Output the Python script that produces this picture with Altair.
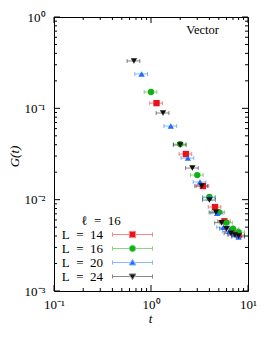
import altair as alt
import pandas as pd

# ---------------- data ----------------
series = ["L\u2002=\u200214", "L\u2002=\u200216", "L\u2002=\u200220", "L\u2002=\u200224"]

t14 = [1.14, 2.29, 3.43, 4.57, 5.71, 6.86, 8.0]
G14 = [0.114, 0.0316, 0.0141, 0.0083, 0.0058, 0.0045, 0.0041]
e14 = [0.17, 0.34, 0.51, 0.68, 0.85, 1.02, 1.2]

t16 = [1.0, 2.0, 3.0, 4.0, 5.0, 6.0, 7.0, 8.0]
G16 = [0.151, 0.0406, 0.0186, 0.0107, 0.0073, 0.0056, 0.0048, 0.0044]
e16 = [0.15, 0.3, 0.45, 0.6, 0.75, 0.9, 1.05, 1.2]

t20 = [0.8, 1.6, 2.4, 3.2, 4.0, 4.8, 5.6, 6.4, 7.2, 8.0]
G20 = [0.238, 0.064, 0.0285, 0.0156, 0.0105, 0.0071, 0.0050, 0.0045, 0.0042, 0.0039]
e20 = [0.12, 0.24, 0.36, 0.48, 0.6, 0.72, 0.84, 0.96, 1.08, 1.2]

t24 = [0.667, 1.33, 2.0, 2.67, 3.33, 4.0, 4.67, 5.33, 6.0, 6.67, 7.33, 8.0]
G24 = [0.330, 0.0889, 0.0396, 0.0222, 0.0141, 0.0099, 0.0073, 0.0056, 0.0048, 0.0043, 0.0041, 0.0040]
e24 = [0.1, 0.2, 0.3, 0.4, 0.5, 0.6, 0.7, 0.8, 0.9, 1.0, 1.1, 1.2]

x_labels_at = [0.1, 1, 10]
y_labels_at = [0.001, 0.01, 0.1, 1]
x_major = [0.1, 1, 10]
x_minor = [k * 0.1 for k in range(2, 10)] + [k * 1.0 for k in range(2, 10)]
y_major = [0.001, 0.01, 0.1, 1]
y_minor = [k * 10.0 ** e for e in (-3, -2, -1) for k in range(2, 10)]

annot_txt = ["Vector"]
annot_t = [5.02]
annot_G = [0.72]
key_title = ["\u2113\u2002=\u200216"]
key_t = [0.305]
key_G = [0.0059]

# ---------------- styling ----------------
colors = ["#e8141c", "#12b012", "#1f6fff", "#111111"]
light = ["#f28a8e", "#86d486", "#8fb5ff", "#8a8a8a"]
shapes = ["square", "circle", "triangle-up", "triangle-down"]
key_paths = [
    "M-6.67,0H-1.1M1.1,0H6.67M-6.67,-0.7V0.7M6.67,-0.7V0.7M-1.05,-1.05H1.05V1.05H-1.05Z",
    "M-6.67,0H-1.1M1.1,0H6.67M-6.67,-0.7V0.7M6.67,-0.7V0.7M-1.1,0A1.1,1.1,0,1,0,1.1,0A1.1,1.1,0,1,0,-1.1,0Z",
    "M-6.67,0H-0.9M0.9,0H6.67M-6.67,-0.7V0.7M6.67,-0.7V0.7M0,-1.05L1.15,0.85L-1.15,0.85Z",
    "M-6.67,0H-0.9M0.9,0H6.67M-6.67,-0.7V0.7M6.67,-0.7V0.7M0,1.05L1.15,-0.85L-1.15,-0.85Z",
]
FONT = "Liberation Serif"
W, H = 194, 274

rows = []
for name, ts, Gs, es in zip(series, [t14, t16, t20, t24], [G14, G16, G20, G24], [e14, e16, e20, e24]):
    for t, G, e in zip(ts, Gs, es):
        rows.append({"L": name, "t": t, "G": G, "lo": t - e, "hi": t + e})
df = pd.DataFrame(rows)

xscale = alt.Scale(type="log", domain=[0.1, 10])
yscale = alt.Scale(type="log", domain=[0.001, 1])

lab_expr = ("datum.value > 5 ? '10¹' : datum.value > 0.5 ? '10⁰' : "
            "datum.value > 0.05 ? '10⁻¹' : datum.value > 0.005 ? '10⁻²' : '10⁻³'")

x_axis = alt.Axis(values=x_labels_at, labelExpr=lab_expr, ticks=False, domain=False,
                  grid=False, labelFont=FONT, labelFontSize=13, labelColor="black",
                  labelPadding=7, labelFlush=False, title="t", titleFont=FONT, titleFontSize=13,
                  titleFontStyle="italic", titleFontWeight="normal", titleColor="black",
                  titleX=96, titleY=27, titleBaseline="middle", titleAlign="center")
y_axis = alt.Axis(values=y_labels_at, labelExpr=lab_expr, ticks=False, domain=False,
                  grid=False, labelFont=FONT, labelFontSize=13, labelColor="black",
                  labelPadding=9, labelFlush=False, title="G(t)", titleFont=FONT, titleFontSize=13,
                  titleFontStyle="italic", titleFontWeight="normal", titleColor="black",
                  titleX=-40, titleY=139, titleAngle=270, titleBaseline="middle",
                  titleAlign="center")


def X(field):
    return alt.X(field, scale=xscale, axis=x_axis)


def Y(field):
    return alt.Y(field, scale=yscale, axis=y_axis)


base = alt.Chart(df)

data_layers = []
for name, shp, c in zip(series, shapes, colors):
    sub = base.transform_filter(alt.datum.L == name)
    data_layers.append(sub.mark_rule(strokeWidth=1, opacity=0.5, color=c).encode(
        x=X("lo:Q"), x2="hi:Q", y=Y("G:Q")))
    data_layers.append(sub.mark_tick(orient="vertical", size=4, thickness=1, opacity=0.5, color=c).encode(
        x=X("lo:Q"), y=Y("G:Q")))
    data_layers.append(sub.mark_tick(orient="vertical", size=4, thickness=1, opacity=0.5, color=c).encode(
        x=X("hi:Q"), y=Y("G:Q")))
for name, shp, c in zip(series, shapes, colors):
    sub = base.transform_filter(alt.datum.L == name)
    data_layers.append(sub.mark_point(filled=True, opacity=1, size=40, shape=shp, color=c).encode(
        x=X("t:Q"), y=Y("G:Q")))

leg = alt.Legend(title=None, orient="none", legendX=72, legendY=211, labelAlign="right",
                 labelOffset={"expr": "-36"}, labelFont=FONT, labelFontSize=13, labelColor="black",
                 symbolSize=36, symbolStrokeWidth=1, symbolOpacity=1, rowPadding=0, padding=0)
keylayer = base.mark_point(filled=True, opacity=0, size=36).encode(
    x=X("t:Q"), y=Y("G:Q"),
    color=alt.Color("L:N", scale=alt.Scale(domain=series, range=colors), legend=leg),
    stroke=alt.Stroke("L:N", scale=alt.Scale(domain=series, range=light), legend=leg),
    shape=alt.Shape("L:N", scale=alt.Scale(domain=series, range=key_paths), legend=leg),
)


def xticks(vals, length):
    d = alt.Chart(pd.DataFrame({"v": vals}))
    bot = d.mark_rule(color="black", strokeWidth=1).encode(
        x=X("v:Q"), y=alt.value(H), y2=alt.value(H - length))
    top = d.mark_rule(color="black", strokeWidth=1).encode(
        x=X("v:Q"), y=alt.value(0), y2=alt.value(length))
    return [bot, top]


def yticks(vals, length):
    d = alt.Chart(pd.DataFrame({"v": vals}))
    left = d.mark_rule(color="black", strokeWidth=1).encode(
        y=Y("v:Q"), x=alt.value(0), x2=alt.value(length))
    right = d.mark_rule(color="black", strokeWidth=1).encode(
        y=Y("v:Q"), x=alt.value(W), x2=alt.value(W - length))
    return [left, right]


tick_layers = xticks(x_major, 6) + xticks(x_minor, 3) + yticks(y_major, 6) + yticks(y_minor, 3)

annot = alt.Chart(pd.DataFrame({"txt": annot_txt, "t": annot_t, "G": annot_G})).mark_text(
    align="right", baseline="middle", font=FONT, fontSize=12.5, color="black").encode(
    x=X("t:Q"), y=Y("G:Q"), text="txt:N")
keytitle = alt.Chart(pd.DataFrame({"txt": key_title, "t": key_t, "G": key_G})).mark_text(
    align="center", baseline="middle", font=FONT, fontSize=13, color="black").encode(
    x=X("t:Q"), y=Y("G:Q"), text="txt:N")

chart = alt.layer(*data_layers, *tick_layers, annot, keytitle, keylayer).properties(
    width=W, height=H,
    autosize=alt.AutoSizeParams(type="none"),
    padding={"left": 46, "top": 9, "right": 16, "bottom": 40},
    background="white",
).configure_view(stroke="black", strokeWidth=1)

chart.save("out.html", embed_options={"renderer": "svg", "actions": False})
